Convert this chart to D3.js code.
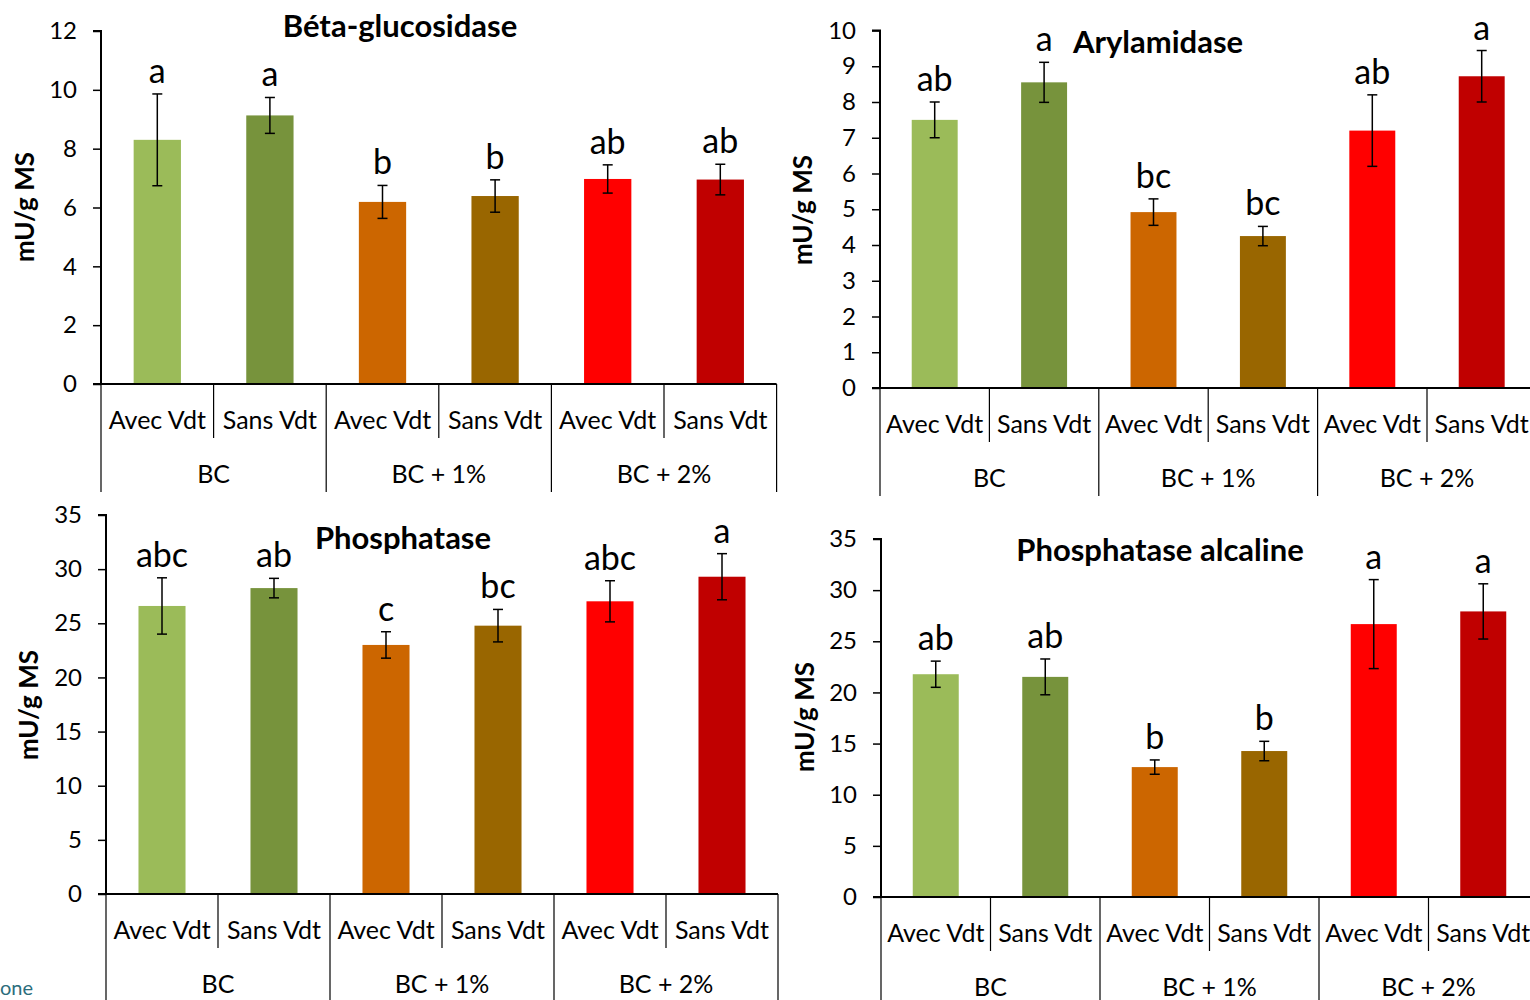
<!DOCTYPE html>
<html>
<head>
<meta charset="utf-8">
<script src="https://cdn.jsdelivr.net/npm/d3@7"></script>
<style>
  body { margin: 0; background: #fff; }
  svg { display: block; font-family: Lato, "Open Sans", sans-serif; }
</style>
</head>
<body>
<svg id="chart" width="1530" height="1000"></svg>
<script>
// categories
var groups = ["BC", "BC + 1%", "BC + 2%"];
var subs = ["Avec Vdt", "Sans Vdt"];
var barColors = ["#9bbb59", "#77933c", "#cc6600", "#996600", "#ff0000", "#c00000"];

// Béta-glucosidase
var betaMean = [8.30, 9.13, 6.19, 6.39, 6.97, 6.95];
var betaErr = [1.56, 0.61, 0.56, 0.55, 0.48, 0.52];
var betaLetters = ["a", "a", "b", "b", "ab", "ab"];

// Arylamidase
var arylMean = [7.50, 8.55, 4.92, 4.25, 7.20, 8.72];
var arylErr = [0.50, 0.56, 0.37, 0.27, 1.00, 0.72];
var arylLetters = ["ab", "a", "bc", "bc", "ab", "a"];

// Phosphatase
var phosMean = [26.6, 28.25, 23.0, 24.78, 27.03, 29.3];
var phosErr = [2.6, 0.9, 1.22, 1.5, 1.9, 2.13];
var phosLetters = ["abc", "ab", "c", "bc", "abc", "a"];

// Phosphatase alcaline
var alcMean = [21.78, 21.52, 12.7, 14.27, 26.68, 27.92];
var alcErr = [1.28, 1.75, 0.7, 0.95, 4.35, 2.7];
var alcLetters = ["ab", "ab", "b", "b", "a", "a"];

var cats = [];
groups.forEach(function(g){ subs.forEach(function(s){ cats.push(g + "|" + s); }); });

var svg = d3.select("#chart");

function drawPanel(p) {
  var n = cats.length;
  var x = d3.scaleBand().domain(cats)
    .range([p.x0, p.x0 + p.catW * n])
    .paddingInner(0.58).paddingOuter(0.29);
  var y = d3.scaleLinear().domain([0, p.ymax]).range([p.y0, p.yTop]);
  var g = svg.append("g");

  // y axis
  var yAxis = d3.axisLeft(y).tickValues(d3.range(0, p.ymax + 0.001, p.step))
    .tickSize(8).tickPadding(16);
  var ya = g.append("g").attr("transform", "translate(" + p.x0 + ",0)").call(yAxis);
  ya.select(".domain").attr("stroke", "#000").attr("stroke-width", 2)
    .attr("d", "M-8," + y(p.ymax) + "H0V" + p.y0);
  ya.selectAll(".tick line").attr("stroke", "#000").attr("stroke-width", 1.5);
  ya.selectAll(".tick text").attr("font-size", 24).attr("fill", "#000")
    .attr("font-family", "Lato, sans-serif");

  // bars
  var data = p.mean.map(function(v, i){ return {c: cats[i], v: v, e: p.err[i], l: p.letters[i], col: barColors[i]}; });
  g.selectAll("rect.bar").data(data).enter().append("rect")
    .attr("x", function(d){ return x(d.c); })
    .attr("width", x.bandwidth())
    .attr("y", function(d){ return y(d.v); })
    .attr("height", function(d){ return y(0) - y(d.v); })
    .attr("fill", function(d){ return d.col; });

  // error bars
  var eb = g.selectAll("g.err").data(data).enter().append("g")
    .attr("stroke", "#000").attr("stroke-width", 1.5);
  eb.append("line")
    .attr("x1", function(d){ return x(d.c) + x.bandwidth() / 2; })
    .attr("x2", function(d){ return x(d.c) + x.bandwidth() / 2; })
    .attr("y1", function(d){ return y(d.v + d.e); })
    .attr("y2", function(d){ return y(d.v - d.e); });
  [1, -1].forEach(function(s){
    eb.append("line")
      .attr("x1", function(d){ return x(d.c) + x.bandwidth() / 2 - 5; })
      .attr("x2", function(d){ return x(d.c) + x.bandwidth() / 2 + 5; })
      .attr("y1", function(d){ return y(d.v + s * d.e); })
      .attr("y2", function(d){ return y(d.v + s * d.e); });
  });

  // significance letters
  g.selectAll("text.lt").data(data).enter().append("text")
    .attr("x", function(d){ return x(d.c) + x.bandwidth() / 2; })
    .attr("y", function(d){ return y(d.v + d.e) - 11; })
    .attr("text-anchor", "middle").attr("font-size", 34)
    .text(function(d){ return d.l; });

  // x axis line and category frame
  var xEnd = p.x0 + p.catW * n;
  g.append("line").attr("x1", p.x0 - 8).attr("x2", xEnd)
    .attr("y1", p.y0).attr("y2", p.y0).attr("stroke", "#000").attr("stroke-width", 2);
  for (var i = 0; i <= n; i++) {
    var xx = p.x0 + i * p.catW;
    g.append("line").attr("x1", xx).attr("x2", xx)
      .attr("y1", p.y0).attr("y2", p.y0 + (i % 2 === 0 ? 108 : 54))
      .attr("stroke", "#000").attr("stroke-width", 1.2);
  }
  cats.forEach(function(c, i){
    g.append("text").attr("x", p.x0 + (i + 0.5) * p.catW).attr("y", p.y0 + 45)
      .attr("text-anchor", "middle").attr("font-size", 25).text(c.split("|")[1]);
  });
  groups.forEach(function(gr, i){
    g.append("text").attr("x", p.x0 + (i + 0.5) * p.catW * 2).attr("y", p.y0 + 99)
      .attr("text-anchor", "middle").attr("font-size", 25).text(gr);
  });

  // title and y label
  g.append("text").attr("x", p.tx).attr("y", p.ty).attr("text-anchor", "middle")
    .attr("font-size", 31).attr("font-weight", "bold").text(p.title);
  g.append("text").attr("transform", "translate(" + p.lx + "," + p.ly + ")rotate(-90)")
    .attr("text-anchor", "middle").attr("font-size", 26).attr("font-weight", "bold")
    .text("mU/g MS");
}

drawPanel({x0: 101, catW: 112.6, y0: 384, yTop: 31, ymax: 12, step: 2,
  mean: betaMean, err: betaErr, letters: betaLetters,
  title: "Béta-glucosidase", tx: 400, ty: 37, lx: 34, ly: 207});
drawPanel({x0: 880, catW: 109.4, y0: 388, yTop: 30.5, ymax: 10, step: 1,
  mean: arylMean, err: arylErr, letters: arylLetters,
  title: "Arylamidase", tx: 1158, ty: 53, lx: 812, ly: 210});
drawPanel({x0: 106, catW: 112, y0: 894, yTop: 515, ymax: 35, step: 5,
  mean: phosMean, err: phosErr, letters: phosLetters,
  title: "Phosphatase", tx: 403, ty: 549, lx: 38, ly: 705});
drawPanel({x0: 881, catW: 109.5, y0: 897, yTop: 539, ymax: 35, step: 5,
  mean: alcMean, err: alcErr, letters: alcLetters,
  title: "Phosphatase alcaline", tx: 1160, ty: 561, lx: 814, ly: 717});

svg.append("text").attr("x", 0).attr("y", 995).attr("font-size", 20)
  .attr("fill", "#2b6d7c").text("one");
</script>
</body>
</html>
